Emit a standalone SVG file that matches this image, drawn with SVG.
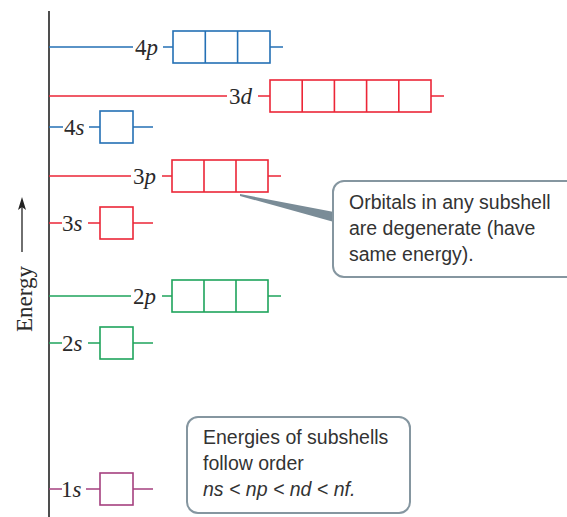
<svg xmlns="http://www.w3.org/2000/svg" width="567" height="517" viewBox="0 0 567 517">
<style>
.lbl{font-family:"Liberation Serif","DejaVu Serif",serif;font-size:23px;fill:#2a2a2a}
.it{font-style:italic}
.b{fill:none;stroke:#2470b5;stroke-width:1.6}
.r{fill:none;stroke:#ec2637;stroke-width:1.6}
.g{fill:none;stroke:#1fa45c;stroke-width:1.6}
.m{fill:none;stroke:#a5407f;stroke-width:1.6}
.call{fill:#fff;stroke:#8596a0;stroke-width:2}
.ct{font-family:"Liberation Sans",Arial,sans-serif;font-size:19.5px;fill:#333}
</style>
<g id="axis">
<line x1="49" y1="11" x2="49" y2="517" stroke="#222" stroke-width="1.6"/>
<line x1="22" y1="252" x2="22" y2="205" stroke="#222" stroke-width="1.3"/>
<path d="M22,197 L26,210 L22,207 L18,210 Z" fill="#222"/>
<text class="lbl" font-size="25" transform="translate(32,299) rotate(-90)" text-anchor="middle">Energy</text>
</g>
<g id="connectors">
<path class="b" d="M49,47H133M163,47H173M270,47H283"/>
<path class="r" d="M49,96H227M258,96H270M431,96H444"/>
<path class="b" d="M49,127H63M89,127H100M133,127H153"/>
<path class="r" d="M49,176H131M162,176H172M268,176H281"/>
<path class="r" d="M49,223H62M88,223H100M133,223H153"/>
<path class="g" d="M49,296H131M162,296H172M268,296H281"/>
<path class="g" d="M49,343H62M88,343H100M133,343H153"/>
<path class="m" d="M49,489H62M86,489H100M133,489H153"/>
</g>
<g id="n4p">
<text class="lbl" x="135" y="55">4<tspan class="it">p</tspan></text>
<rect class="b" x="173" y="31" width="97" height="32"/>
<path class="b" d="M205.3,31V63M237.6,31V63"/>
</g>
<g id="n3d">
<text class="lbl" x="229" y="104">3<tspan class="it">d</tspan></text>
<rect class="r" x="270" y="80" width="161" height="32"/>
<path class="r" d="M302.2,80V112M334.4,80V112M366.6,80V112M398.8,80V112"/>
</g>
<g id="n4s">
<text class="lbl" x="64" y="135">4<tspan class="it">s</tspan></text>
<rect class="b" x="100" y="111" width="33" height="32"/>
</g>
<g id="n3p">
<text class="lbl" x="133" y="184">3<tspan class="it">p</tspan></text>
<rect class="r" x="172" y="160" width="96" height="32"/>
<path class="r" d="M204,160V192M236,160V192"/>
</g>
<g id="n3s">
<text class="lbl" x="62" y="231">3<tspan class="it">s</tspan></text>
<rect class="r" x="100" y="207" width="33" height="32"/>
</g>
<g id="n2p">
<text class="lbl" x="133" y="304">2<tspan class="it">p</tspan></text>
<rect class="g" x="172" y="280" width="96" height="32"/>
<path class="g" d="M204,280V312M236,280V312"/>
</g>
<g id="n2s">
<text class="lbl" x="62" y="351">2<tspan class="it">s</tspan></text>
<rect class="g" x="100" y="327" width="33" height="32"/>
</g>
<g id="n1s">
<text class="lbl" x="61" y="497">1<tspan class="it">s</tspan></text>
<rect class="m" x="100" y="473" width="33" height="32"/>
</g>
<g id="callout1">
<path d="M240,194 L334,212 L334,222 L240,196 Z" fill="#7a8c97"/>
<rect class="call" x="333" y="181" width="245" height="96" rx="11"/>
<text class="ct" x="349" y="209">Orbitals in any subshell</text>
<text class="ct" x="349" y="235">are degenerate (have</text>
<text class="ct" x="349" y="261">same energy).</text>
</g>
<g id="callout2">
<rect class="call" x="187" y="417" width="223" height="96" rx="11"/>
<text class="ct" x="203" y="444">Energies of subshells</text>
<text class="ct" x="203" y="470">follow order</text>
<text class="ct" x="203" y="496" font-size="15.5" font-style="italic">ns &lt; np &lt; nd &lt; nf.</text>
</g>
</svg>
